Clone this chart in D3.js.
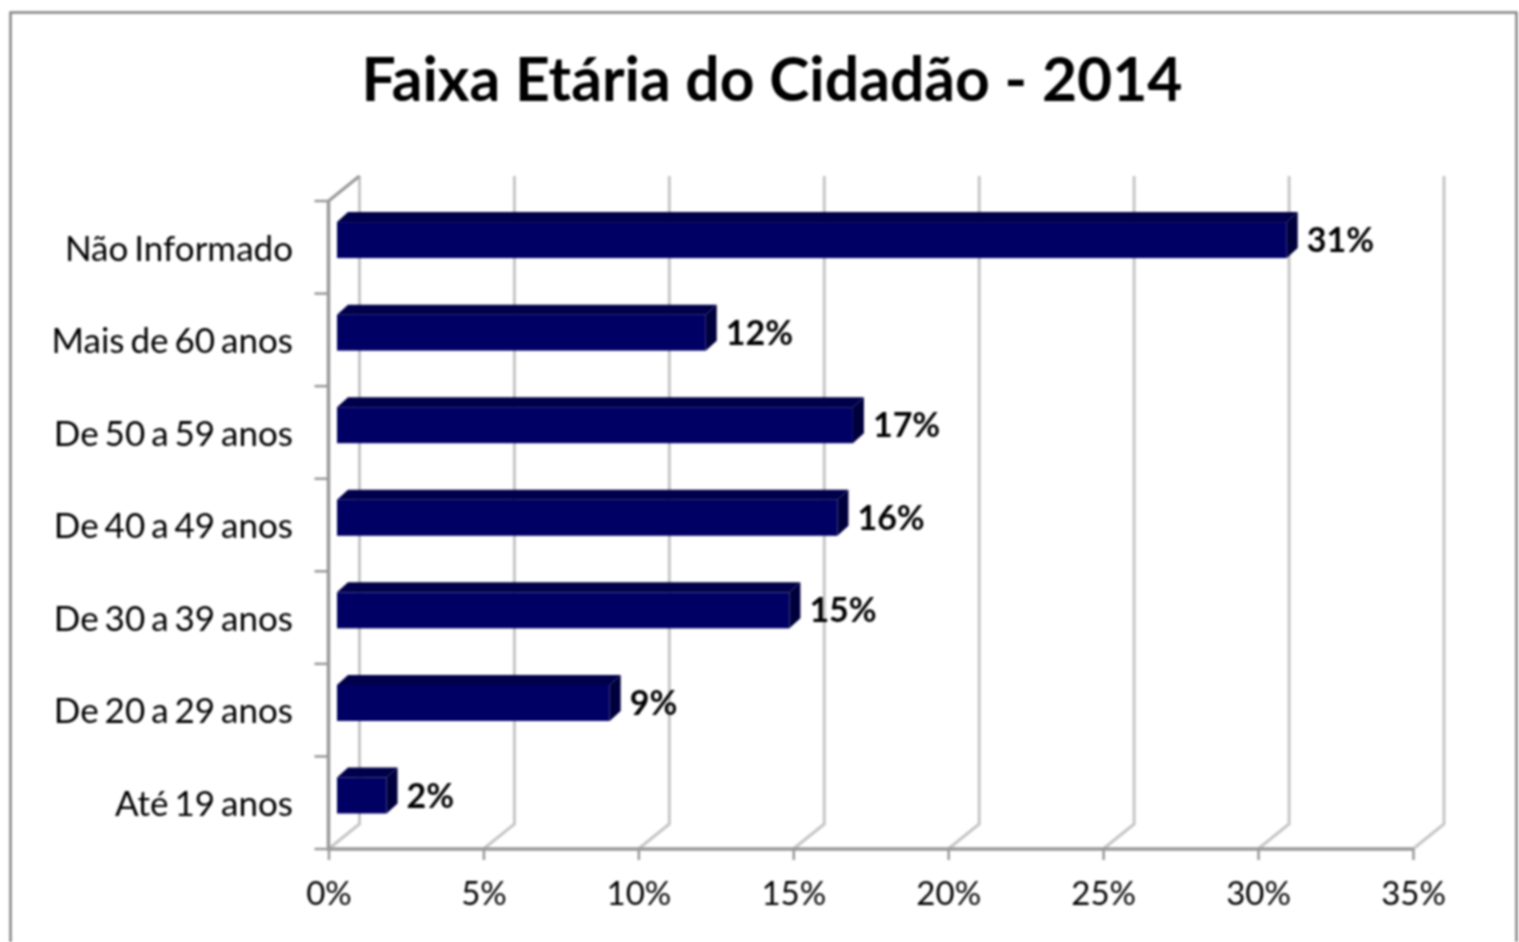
<!DOCTYPE html>
<html><head><meta charset="utf-8">
<script src="https://cdn.jsdelivr.net/npm/d3@7"></script>
<style>html,body{margin:0;padding:0;background:#fff}svg{display:block;filter:blur(0.8px)}text{font-family:Lato,Carlito,sans-serif}</style>
</head><body><svg id="c" width="1519" height="942"></svg>
<script>
const titleText = "Faixa Etária do Cidadão - 2014";
const categories = ["Não Informado","Mais de 60 anos","De 50 a 59 anos","De 40 a 49 anos","De 30 a 39 anos","De 20 a 29 anos","Até 19 anos"];
const values = [30.65,11.9,16.65,16.15,14.6,8.8,1.6];
const xTicks = [0,5,10,15,20,25,30,35];

const svg = d3.select("#c");
const pL=328.5,pR=1413,pT=201,pB=849;
const depthX=31,depthY=25, barDX=11, barDY=10, barInset=8.5;
const axisCol="#999999", gridCol="#c6c6c6", barCol="#000064", topCol="#00004a", sideCol="#00003d";

const x=d3.scaleLinear().domain([0,35]).range([pL,pR]);
const y=d3.scaleBand().domain(categories).range([pT,pB]).paddingInner(0).paddingOuter(0);

svg.append("rect").attr("x",10.5).attr("y",12.5).attr("width",1506).attr("height",960)
  .attr("fill","#fff").attr("stroke","#858585").attr("stroke-width",2.5);

svg.append("text").text(titleText).attr("x",772).attr("y",101).attr("text-anchor","middle")
  .attr("font-size",60.6).attr("font-weight",700).attr("fill","#000");

// gridlines on back wall and floor
const g=svg.append("g").attr("fill","none").attr("stroke",gridCol).attr("stroke-width",3);
g.selectAll("path").data(xTicks).join("path")
  .attr("d",d=>{const a=x(d);return `M${a},${pB}L${a+depthX},${pB-depthY}L${a+depthX},${pT-depthY}`;});
// side wall top edge
svg.append("path").attr("d",`M${pL},${pT}L${pL+depthX},${pT-depthY}`).attr("fill","none").attr("stroke",axisCol).attr("stroke-width",3);

// bars
const bars=svg.append("g").selectAll("g").data(categories).join("g");
const bx=v=>x(v)-x(0)+pL+barInset;
const frontTop=c=>y(c)+y.bandwidth()-71.5, frontBot=c=>y(c)+y.bandwidth()-35.5;
bars.append("path").attr("fill",topCol).attr("d",(c,i)=>{
  const x0=pL+barInset,x1=bx(values[i]),t=frontTop(c);
  return `M${x0},${t}L${x0+barDX},${t-barDY}L${x1+barDX},${t-barDY}L${x1},${t}Z`;});
bars.append("path").attr("fill",sideCol).attr("d",(c,i)=>{
  const x1=bx(values[i]),t=frontTop(c),b=frontBot(c);
  return `M${x1},${t}L${x1+barDX},${t-barDY}L${x1+barDX},${b-barDY}L${x1},${b}Z`;});
bars.append("rect").attr("fill",barCol)
  .attr("x",pL+barInset).attr("y",c=>frontTop(c))
  .attr("width",(c,i)=>bx(values[i])-pL-barInset).attr("height",36);
bars.append("text").text((c,i)=>d3.format(".0f")(values[i])+"%")
  .attr("x",(c,i)=>bx(values[i])+barDX+9).attr("y",c=>frontBot(c)-6)
  .attr("font-size",34).attr("font-weight",700).attr("fill","#000");

// axes
const ax=svg.append("g").attr("transform",`translate(0,${pB})`)
  .call(d3.axisBottom(x).tickValues(xTicks).tickSize(11).tickPadding(22).tickFormat(d=>d+"%"));
ax.selectAll("text").attr("font-size",33).attr("fill","#000").attr("font-family","Lato,Carlito,sans-serif");
const ay=svg.append("g");
ay.append("path").attr("d",`M${pL},${pT}L${pL},${pB}L${pR},${pB}`).attr("fill","none").attr("stroke",axisCol).attr("stroke-width",3.5);
ay.selectAll("line").data(y.domain().map(c=>y(c)).concat([pB])).join("line")
  .attr("x1",pL-14).attr("x2",pL).attr("y1",d=>d).attr("y2",d=>d).attr("stroke",axisCol).attr("stroke-width",2.5);
ax.select(".domain").remove();
ax.selectAll("line").attr("stroke",axisCol).attr("stroke-width",2.5);
ay.selectAll("text").data(categories).join("text").text(d=>d)
  .attr("x",293).attr("y",d=>y(d)+y.bandwidth()-33).attr("text-anchor","end")
  .attr("font-size",35).attr("word-spacing",-3).attr("fill","#000");
</script></body></html>
